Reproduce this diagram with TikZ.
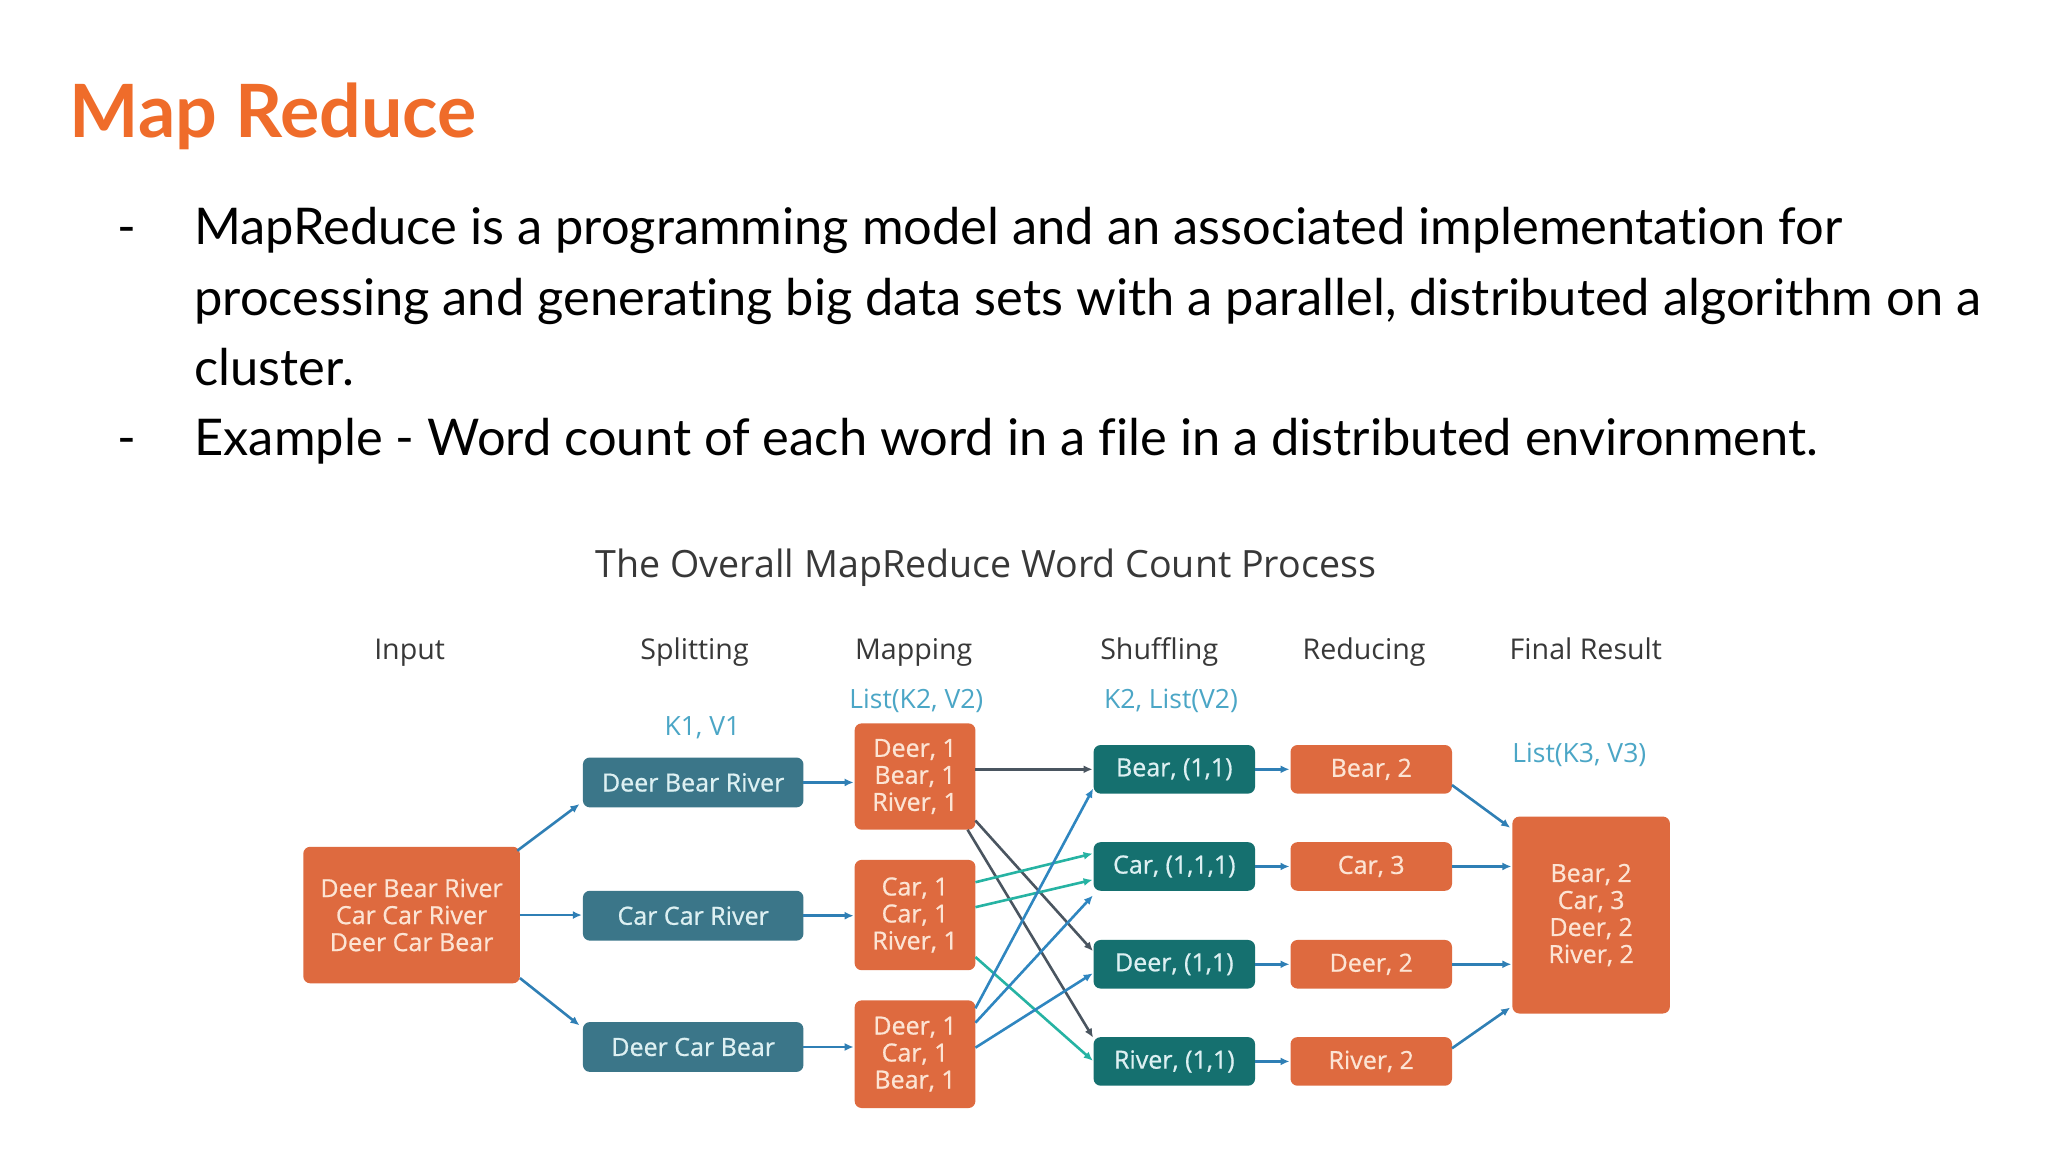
\documentclass[tikz,border=0pt]{standalone}
\usepackage{fontspec}
\setmainfont{Lato}[Ligatures=NoCommon]
\newfontfamily\osans{Open Sans}
\newfontfamily\osansm{Open Sans}[FakeBold=0.7]
\usetikzlibrary{arrows.meta,calc}
\definecolor{titleorange}{HTML}{EF6C2A}
\definecolor{boxorange}{HTML}{DE6A3F}
\definecolor{creamtext}{HTML}{FCE4D4}
\definecolor{splitblue}{HTML}{3B7689}
\definecolor{shufteal}{HTML}{15706F}
\definecolor{lighttext}{HTML}{DDF0F2}
\definecolor{lblblue}{HTML}{4BA6C6}
\definecolor{hdrgray}{HTML}{383838}
\definecolor{arrblue}{HTML}{2F7FB5}
\definecolor{arrgray}{HTML}{4A5560}
\definecolor{arrteal}{HTML}{26B3A3}
\definecolor{arrblue2}{HTML}{2F86C0}
\def\pxu{1.3128pt}
\begin{document}
\begin{tikzpicture}[x=1.3128pt,y=-1.3128pt,
  box/.style={rounded corners=7pt, inner sep=0pt, outer sep=0pt, align=center,
    font=\osansm\fontsize{25}{27}\selectfont},
  obox/.style={box, fill=boxorange, text=creamtext},
  bbox/.style={box, fill=splitblue, text=lighttext},
  tbox/.style={box, fill=shufteal, text=lighttext},
  hdr/.style={font=\osans\fontsize{28.6}{30}\selectfont, text=hdrgray, inner sep=0pt, anchor=base},
  lbl/.style={font=\osans\fontsize{26.5}{28}\selectfont, text=lblblue, inner sep=0pt, anchor=base},
  body/.style={font=\fontsize{50.6}{60}\selectfont, text=black, inner sep=0pt, anchor=base west},
  arr/.style={-{Latex[length=9pt,width=8pt]}, line width=2.6pt, draw=arrblue, shorten >=1pt},
  sw/.style={minimum width=168*\pxu, minimum height=38*\pxu},
  mw/.style={minimum width=92*\pxu},
  kw/.style={minimum width=123*\pxu, minimum height=37*\pxu}
]
\useasboundingbox[fill=white] (0,0) rectangle (1560,877.5);

% slide text
\node[font=\bfseries\fontsize{73.5}{85}\selectfont, text=titleorange, inner sep=0pt, anchor=base west] (title) at (53,105) {Map Reduce};
\node[body] (d1) at (89,186) {-};
\node[body] (l1) at (148,186) {MapReduce is a programming model and an associated implementation for};
\node[body] (l2) at (148,240) {processing and generating big data sets with a parallel, distributed algorithm on a};
\node[body] (l3) at (148,293.5) {cluster.};
\node[body] (d2) at (89,347) {-};
\node[body] (l4) at (148,347) {Example - Word count of each word in a file in a distributed environment.};

% diagram title and headers
\node[font=\osans\fontsize{37.6}{40}\selectfont, text=hdrgray, inner sep=0pt, anchor=base] (dtitle) at (751,440) {The Overall MapReduce Word Count Process};
\node[hdr] (hInput) at (312,502) {Input};
\node[hdr] (hSplit) at (529,502) {Splitting};
\node[hdr] (hMap) at (696,502) {Mapping};
\node[hdr] (hShuf) at (883,502) {Shuffling};
\node[hdr] (hRed) at (1039,502) {Reducing};
\node[hdr] (hFin) at (1208,502) {Final Result};

\node[lbl] (k1) at (535,560.5) {K1, V1};
\node[lbl] (k2) at (698,539.5) {List(K2, V2)};
\node[lbl] (k2b) at (892,539.5) {K2, List(V2)};
\node[lbl] (k3) at (1203,580.5) {List(K3, V3)};

% boxes
\node[obox, minimum width=165*\pxu, minimum height=104*\pxu] (input) at (313.5,697) {Deer Bear River\\Car Car River\\Deer Car Bear};

\node[bbox, sw] (s1) at (528,596) {Deer Bear River};
\node[bbox, sw] (s2) at (528,697.5) {Car Car River};
\node[bbox, sw] (s3) at (528,797.5) {Deer Car Bear};

\node[obox, mw, minimum height=81*\pxu] (m1) at (697,591.5) {Deer, 1\\Bear, 1\\River, 1};
\node[obox, mw, minimum height=84*\pxu] (m2) at (697,697) {Car, 1\\Car, 1\\River, 1};
\node[obox, mw, minimum height=82*\pxu] (m3) at (697,803) {Deer, 1\\Car, 1\\Bear, 1};

\node[tbox, kw] (sbear) at (894.5,586) {Bear, (1,1)};
\node[tbox, kw] (scar) at (894.5,660) {Car, (1,1,1)};
\node[tbox, kw] (sdeer) at (894.5,734.5) {Deer, (1,1)};
\node[tbox, kw] (sriver) at (894.5,808.5) {River, (1,1)};

\node[obox, kw] (rbear) at (1044.5,586) {Bear, 2};
\node[obox, kw] (rcar) at (1044.5,660) {Car, 3};
\node[obox, kw] (rdeer) at (1044.5,734.5) {Deer, 2};
\node[obox, kw] (rriver) at (1044.5,808.5) {River, 2};

\node[obox, minimum width=120*\pxu, minimum height=150*\pxu] (final) at (1212,697) {Bear, 2\\Car, 3\\Deer, 2\\River, 2};

% connectors: input -> splitting
\draw[arr] ($(input.north east)+(-2,3)$) -- ($(s1.south west)+(-2,-3)$);
\draw[arr] (input.east) -- (input.east -| s2.west);
\draw[arr] ($(input.south east)+(0,-4)$) -- ($(s3.north west)+(-2,3)$);

% splitting -> mapping
\draw[arr] (s1.east) -- (s1.east -| m1.west);
\draw[arr] (s2.east) -- (s2.east -| m2.west);
\draw[arr] (s3.east) -- (s3.east -| m3.west);

% mapping -> shuffling
\draw[arr, draw=arrgray] (m1.east |- sbear.west) -- (sbear.west);
\draw[arr, draw=arrgray] ($(m1.south east)+(0,-7)$) -- ($(sdeer.west)+(0,-9.5)$);
\draw[arr, draw=arrgray] ($(m1.south east)+(-6,0)$) -- ($(sriver.north west)+(0,1)$);

\draw[arr, draw=arrteal] ($(m2.east)+(0,-25)$) -- ($(scar.west)+(0,-10)$);
\draw[arr, draw=arrteal] ($(m2.east)+(0,-6)$) -- ($(scar.west)+(0,10)$);
\draw[arr, draw=arrteal] ($(m2.east)+(0,32)$) -- (sriver.west);

\draw[arr, draw=arrblue2] ($(m3.east)+(0,-35)$) -- ($(sbear.west)+(0,14)$);
\draw[arr, draw=arrblue2] ($(m3.east)+(0,-24)$) -- ($(scar.south west)+(0,3)$);
\draw[arr, draw=arrblue2] ($(m3.east)+(0,-5)$) -- ($(sdeer.west)+(0,6.5)$);

% shuffling -> reducing
\draw[arr] (sbear.east) -- (rbear.west);
\draw[arr] (scar.east) -- (rcar.west);
\draw[arr] (sdeer.east) -- (rdeer.west);
\draw[arr] (sriver.east) -- (rriver.west);

% reducing -> final
\draw[arr] ($(rbear.east)+(0,12)$) -- ($(final.north west)+(-1,9)$);
\draw[arr] (rcar.east) -- (rcar.east -| final.west);
\draw[arr] (rdeer.east) -- (rdeer.east -| final.west);
\draw[arr] ($(rriver.east)+(0,-10)$) -- ($(final.south west)+(-1,-5)$);
\end{tikzpicture}
\end{document}
